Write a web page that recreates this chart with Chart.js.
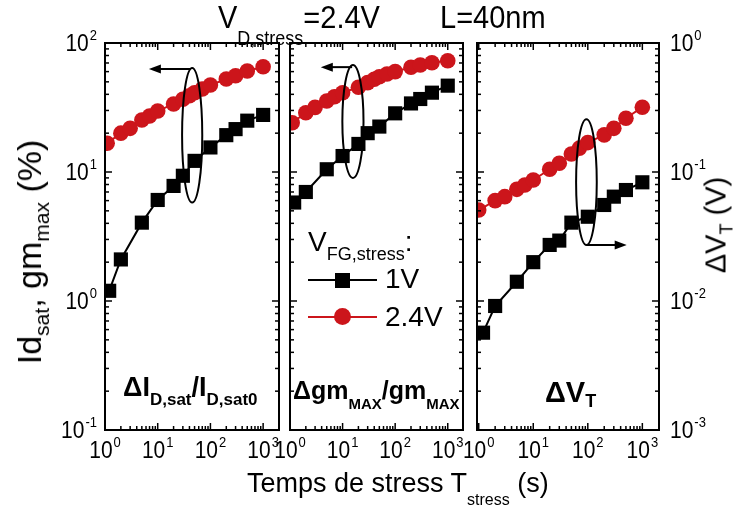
<!DOCTYPE html>
<html>
<head>
<meta charset="utf-8">
<script src="https://cdn.jsdelivr.net/npm/chart.js@4.4.1/dist/chart.umd.min.js"></script>
<style>
body{margin:0;background:#fff;}
#wrap{position:relative;width:735px;height:508px;overflow:hidden;font-family:"Liberation Sans",Arial,sans-serif;color:#000;}
canvas{position:absolute;left:0;top:0;}
.t{position:absolute;white-space:nowrap;line-height:1;}
.s{position:relative;line-height:1;}
.b{font-weight:bold;}
.rot{transform:translate(-50%,-50%) rotate(-90deg);}
.tall{transform:scaleY(1.1);transform-origin:0 0;}
.mk{position:absolute;}
</style>
</head>
<body>
<div id="wrap">
<canvas id="c1" width="735" height="508"></canvas>
<canvas id="c2" width="735" height="508"></canvas>
<canvas id="c3" width="735" height="508"></canvas>

<div class="t tall" style="left:218px;top:2px;font-size:29px">V<span class="s" style="font-size:18px;top:15px">D,stress</span>=2.4V</div>
<div class="t tall" style="left:440px;top:2px;font-size:29px">L=40nm</div>

<div class="t rot" style="left:29px;top:252px;font-size:34px">Id<span class="s" style="font-size:21px;top:8px">sat</span>, gm<span class="s" style="font-size:21px;top:8px">max</span> (%)</div>
<div class="t rot" style="left:716px;top:225px;font-size:29px">&Delta;V<span class="s" style="font-size:18px;top:7px">T</span> (V)</div>
<div class="t" style="left:247px;top:470px;font-size:27px">Temps de stress T<span class="s" style="font-size:16px;top:13px">stress</span> (s)</div>

<div class="t b" style="left:123px;top:374px;font-size:27px">&Delta;I<span class="s" style="font-size:17px;top:9px">D,sat</span>/I<span class="s" style="font-size:17px;top:9px">D,sat0</span></div>
<div class="t b" style="left:293px;top:378px;font-size:25px">&Delta;gm<span class="s" style="font-size:15px;top:10px">MAX</span>/gm<span class="s" style="font-size:15px;top:10px">MAX</span></div>
<div class="t b" style="left:545px;top:378px;font-size:29px">&Delta;V<span class="s" style="font-size:18px;top:5px">T</span></div>

<div class="t" style="left:308px;top:228px;font-size:28px">V<span class="s" style="font-size:18px;top:9px">FG,stress</span>:</div>
<div class="mk" style="left:308px;top:279px;width:69px;height:2px;background:#000"></div>
<div class="mk" style="left:335px;top:273px;width:15px;height:15px;background:#000"></div>
<div class="t" style="left:385px;top:265px;font-size:28px">1V</div>
<div class="mk" style="left:308px;top:316px;width:69px;height:2px;background:#cc151b"></div>
<div class="mk" style="left:334px;top:308px;width:17px;height:17px;border-radius:50%;background:#cc151b"></div>
<div class="t" style="left:385px;top:303px;font-size:28px">2.4V</div>
</div>

<script>
// stress time (s)
const tSquare = [1.2, 2, 5, 10, 20, 30, 50, 100, 200, 300, 500, 1000];
const tCircle = [1.1, 2, 3, 5, 7, 10, 20, 30, 40, 50, 70, 100, 200, 300, 500, 1000];
const tCircleVt = [1, 2, 3, 5, 7, 10, 20, 30, 50, 70, 100, 200, 300, 500, 1000];

// dId,sat / Id,sat0 (%)
const idsat1V = [1.2, 2.1, 4.05, 6.07, 7.8, 9.35, 12.2, 15.5, 19.3, 21.5, 25, 27.7];
const idsat24V = [16.7, 20, 21.8, 25.3, 27.2, 29.7, 33.7, 36.6, 39, 41.2, 44, 47.2, 52.6, 55.8, 60.7, 65.5];

// dgm_MAX / gm_MAX (%)
const gm1V = [5.8, 7.0, 10.5, 13.3, 16.5, 20, 22.5, 28.5, 34, 36.8, 41.2, 46.7];
const gm24V = [24.1, 28.8, 31.7, 35.5, 38.3, 41.2, 45.4, 49.3, 52.4, 54.8, 57.5, 60, 64.8, 67.5, 70.3, 72.9];

// dVT (V)
const vt1V = [0.00568, 0.00915, 0.0141, 0.020, 0.0272, 0.0294, 0.0405, 0.045, 0.0555, 0.0644, 0.0725, 0.0832];
const vt24V = [0.0507, 0.060, 0.0644, 0.0734, 0.0793, 0.0867, 0.105, 0.117, 0.138, 0.153, 0.169, 0.194, 0.218, 0.261, 0.318];

const xTickVals = [1, 10, 100, 1000];
const yTickLeft = [0.1, 1, 10, 100];
const yTickRight = [0.001, 0.01, 0.1, 1];

const RED = "#cc151b";
const FONT = '"Liberation Sans", Arial, sans-serif';

function logSteps(min, max){
    const out = [];
    for(let e = Math.floor(Math.log10(min)); e <= Math.ceil(Math.log10(max)); e++){
        for(let m = 1; m <= 9; m++){
            const v = m * Math.pow(10, e);
            if(v >= min * 0.999 && v <= max * 1.001) out.push({v: v, major: m === 1});
        }
    }
    return out;
}

function powLabel(ctx, v, x, yBase, align){
    const e = String(Math.round(Math.log10(v)));
    ctx.save();
    ctx.font = "21px " + FONT;
    const wb = ctx.measureText("10").width;
    ctx.font = "13px " + FONT;
    const ws = ctx.measureText(e).width;
    const w = wb + 1 + ws;
    let x0 = x;
    if(align === "center") x0 = x - w / 2;
    if(align === "right") x0 = x - w;
    ctx.translate(0, yBase);
    ctx.scale(1, 1.15);
    ctx.fillStyle = "#000";
    ctx.textAlign = "left";
    ctx.textBaseline = "alphabetic";
    ctx.font = "21px " + FONT;
    ctx.fillText("10", x0, 0);
    ctx.font = "13px " + FONT;
    ctx.fillText(e, x0 + wb + 1, -10);
    ctx.restore();
}

function line(ctx, x1, y1, x2, y2){
    ctx.beginPath(); ctx.moveTo(x1, y1); ctx.lineTo(x2, y2); ctx.stroke();
}

// frame, inward ticks, tick labels, ellipse + arrow
const framePlugin = {
    id: "frame",
    afterDraw(chart, args, opts){
        const ctx = chart.ctx, a = chart.chartArea;
        const xs = chart.scales.x, ys = chart.scales.y;
        ctx.save();
        ctx.strokeStyle = "#000";
        ctx.lineWidth = 1.5;
        logSteps(xs.min, xs.max).forEach(s => {
            const px = xs.getPixelForValue(s.v), L = s.major ? 7 : 4;
            line(ctx, px, a.bottom, px, a.bottom - L);
            line(ctx, px, a.top, px, a.top + L);
        });
        logSteps(ys.min, ys.max).forEach(s => {
            const py = ys.getPixelForValue(s.v), L = s.major ? 7 : 4;
            line(ctx, a.left, py, a.left + L, py);
            line(ctx, a.right, py, a.right - L, py);
        });
        ctx.lineWidth = 2;
        ctx.strokeRect(a.left, a.top, a.right - a.left, a.bottom - a.top);

        xTickVals.forEach(v => powLabel(ctx, v, xs.getPixelForValue(v), a.bottom + 28, "center"));
        if(opts.left) yTickLeft.forEach(v => powLabel(ctx, v, a.left - 8, ys.getPixelForValue(v) + 8, "right"));
        if(opts.right) yTickRight.forEach(v => powLabel(ctx, v, a.right + 11, ys.getPixelForValue(v) + 8, "left"));

        // ellipse
        const el = opts.ellipse;
        const xl = xs.getPixelForValue(el.x[0]), xr = xs.getPixelForValue(el.x[1]);
        const yb = ys.getPixelForValue(el.y[0]), yt = ys.getPixelForValue(el.y[1]);
        ctx.lineWidth = 2;
        ctx.beginPath();
        ctx.ellipse((xl + xr) / 2, (yt + yb) / 2, (xr - xl) / 2, (yb - yt) / 2, 0, 0, 2 * Math.PI);
        ctx.stroke();

        // arrow
        const ar = opts.arrow;
        const fx = xs.getPixelForValue(ar.from[0]), fy = ys.getPixelForValue(ar.from[1]);
        const tx = xs.getPixelForValue(ar.to[0]);
        const dir = tx < fx ? -1 : 1;
        line(ctx, fx, fy, tx - dir * 8, fy);
        ctx.fillStyle = "#000";
        ctx.beginPath();
        ctx.moveTo(tx, fy);
        ctx.lineTo(tx - dir * 12, fy - 4.5);
        ctx.lineTo(tx - dir * 12, fy + 4.5);
        ctx.closePath();
        ctx.fill();
        ctx.restore();
    }
};

function makePanel(id, pad, xr, yr, sqVals, ciTimes, ciVals, frameOpts){
    const ctx = document.getElementById(id).getContext("2d");
    return new Chart(ctx, {
        type: "line",
        data: {
            datasets: [{
                data: tSquare.map((t, i) => ({x: t, y: sqVals[i]})),
                borderColor: "#000",
                borderWidth: 2,
                pointStyle: "rect",
                pointRadius: 10,
                pointBackgroundColor: "#000",
                pointBorderColor: "#000",
                pointBorderWidth: 0,
                tension: 0,
                clip: 0
            }, {
                data: ciTimes.map((t, i) => ({x: t, y: ciVals[i]})),
                borderColor: RED,
                borderWidth: 2,
                pointStyle: "circle",
                pointRadius: 7.8,
                pointBackgroundColor: RED,
                pointBorderColor: RED,
                pointBorderWidth: 0,
                tension: 0,
                clip: 0
            }]
        },
        options: {
            responsive: false,
            animation: false,
            devicePixelRatio: 1,
            layout: {padding: pad},
            scales: {
                x: {type: "logarithmic", min: xr[0], max: xr[1], display: false},
                y: {type: "logarithmic", min: yr[0], max: yr[1], display: false}
            },
            plugins: {
                legend: {display: false},
                tooltip: {enabled: false},
                frame: frameOpts
            }
        },
        plugins: [framePlugin]
    });
}

makePanel("c1", {left: 105, top: 43, right: 456, bottom: 78}, [1, 2000], [0.1, 100],
    idsat1V, tCircle, idsat24V,
    {left: true, ellipse: {x: [29, 70], y: [5.8, 64]}, arrow: {from: [42, 63], to: [6.8, 63]}});

makePanel("c2", {left: 290, top: 43, right: 272, bottom: 78}, [1, 1950], [0.1, 100],
    gm1V, tCircle, gm24V,
    {ellipse: {x: [9.9, 25], y: [9.0, 67.5]}, arrow: {from: [15.2, 65], to: [3.85, 65]}});

makePanel("c3", {left: 477, top: 43, right: 76, bottom: 78}, [0.93, 2020], [0.001, 1],
    vt1V, tCircleVt, vt24V,
    {right: true, ellipse: {x: [61, 146], y: [0.0272, 0.256]}, arrow: {from: [95, 0.0272], to: [517, 0.0272]}});
</script>
</body>
</html>
